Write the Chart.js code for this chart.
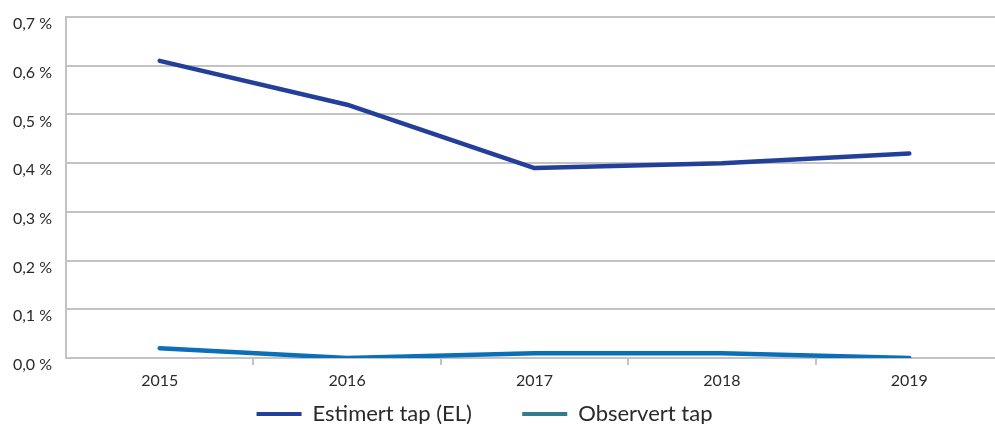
<!DOCTYPE html>
<html>
<head>
<meta charset="utf-8">
<script src="https://cdn.jsdelivr.net/npm/chart.js@4"></script>
<style>
  html, body { margin: 0; padding: 0; overflow: hidden; background: #fff; }
  #wrap { position: relative; width: 995px; height: 424px; overflow: hidden; }
  #tapChart { position: absolute; left: -34px; top: 0; }
</style>
</head>
<body>
<div id="wrap">
  <canvas id="tapChart" width="1044" height="440"></canvas>
</div>
<script>
const years = ['2015', '2016', '2017', '2018', '2019']
const estimertTap = [0.61, 0.52, 0.39, 0.40, 0.42]
const observertTap = [0.02, 0.0, 0.01, 0.01, 0.0]
const yTicks = [0, 0.1, 0.2, 0.3, 0.4, 0.5, 0.6, 0.7]

const gridColor = '#c3c3c7'
const textColor = '#2a2a2a'
const fontFamily = "Lato, 'Open Sans', sans-serif"

const ctx = document.getElementById('tapChart').getContext('2d')

function formatPercent (value) {
  return value.toFixed(1).replace('.', ',') + ' %'
}

const chart = new Chart(ctx, {
  type: 'line',
  data: {
    labels: years,
    datasets: [
      {
        label: 'Estimert tap (EL)',
        data: estimertTap,
        borderColor: '#22409a',
        legendColor: '#22409a',
        borderWidth: 4.5,
        pointRadius: 0,
        borderCapStyle: 'round',
        borderJoinStyle: 'round',
        tension: 0
      },
      {
        label: 'Observert tap',
        data: observertTap,
        borderColor: '#0a6fb7',
        legendColor: '#327a8d',
        borderWidth: 4.5,
        pointRadius: 0,
        borderCapStyle: 'round',
        borderJoinStyle: 'round',
        tension: 0
      }
    ]
  },
  options: {
    responsive: false,
    animation: false,
    layout: {
      padding: { top: 17, right: 7, bottom: 5, left: 0 }
    },
    plugins: {
      tooltip: { enabled: false },
      legend: {
        position: 'bottom',
        labels: {
          color: textColor,
          font: { family: fontFamily, size: 22 },
          boxWidth: 45,
          boxHeight: 4,
          padding: 10,
          generateLabels: function (chart) {
            const last = chart.data.datasets.length - 1
            return chart.data.datasets.map((ds, i) => ({
              // wide spaces to open up the gap between the two entries
              text: ds.label + (i < last ? '\u2003\u2003\u2004' : ''),
              fillStyle: ds.legendColor,
              strokeStyle: ds.legendColor,
              lineWidth: 0,
              fontColor: textColor,
              datasetIndex: i,
              hidden: false
            }))
          }
        }
      }
    },
    scales: {
      x: {
        offset: true,
        grid: {
          offset: true,
          drawOnChartArea: false,
          drawTicks: true,
          tickLength: 7,
          lineWidth: 2,
          color: (c) => (c.index === 0 ? 'rgba(0,0,0,0)' : gridColor)
        },
        border: { display: false },
        ticks: {
          color: textColor,
          font: { family: fontFamily, size: 16 },
          padding: 6,
          maxRotation: 0
        },
        afterFit: function (scale) {
          scale.height = 35
        }
      },
      y: {
        min: 0,
        max: 0.7,
        afterBuildTicks: function (scale) {
          scale.ticks = yTicks.map(v => ({ value: v }))
        },
        grid: {
          color: gridColor,
          lineWidth: 2,
          drawTicks: false
        },
        border: { display: true, color: gridColor, width: 2 },
        ticks: {
          color: textColor,
          font: { family: fontFamily, size: 16 },
          padding: 14,
          labelOffset: 7,
          callback: (value) => formatPercent(value)
        },
        afterFit: function (scale) {
          scale.width = 100
          // let the layout padding alone decide the top edge
          scale.paddingTop = 0
          scale.paddingBottom = 0
        }
      }
    }
  }
})
</script>
</body>
</html>
